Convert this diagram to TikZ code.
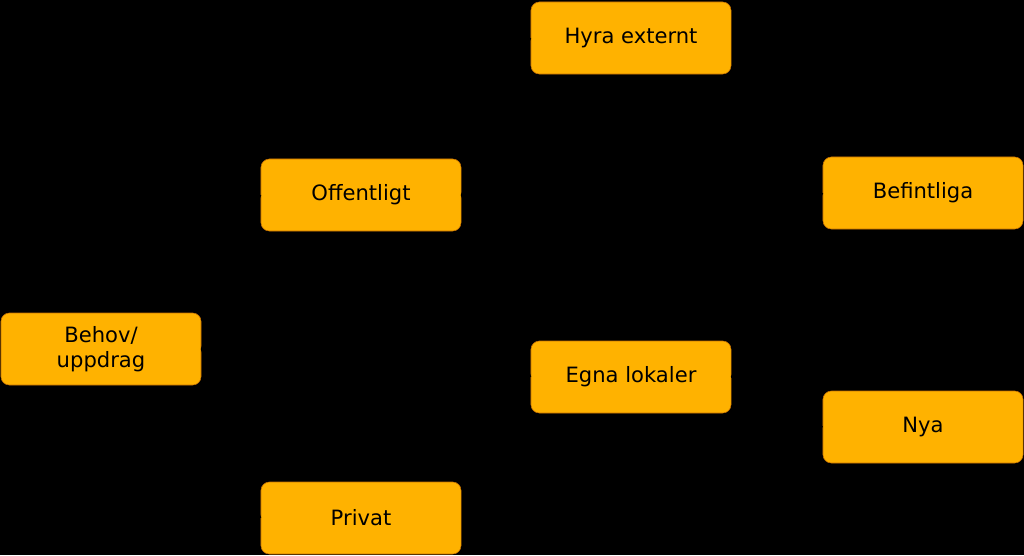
\documentclass[tikz,border=0pt]{standalone}
\usepackage{fontspec}
\setmainfont{DejaVu Sans}
\begin{document}
\begin{tikzpicture}[x=0.025cm,y=-0.025cm,
    box/.style={draw=black!25!orange!90!yellow, fill=orange!60!yellow, rounded corners=6pt,
      minimum width=5cm, minimum height=1.8cm, align=center, font=\fontsize{15}{18}\selectfont},
    link/.style={draw=black, thick}]
  \fill[black] (0,0) rectangle (1024,555);
  \useasboundingbox (0,0) rectangle (1024,555);

  \node[box] (behov) at (101,349) {Behov/\\uppdrag};
  \node[box] (offentligt) at (361,195) {Offentligt};
  \node[box] (privat) at (361,518) {Privat};
  \node[box] (hyra) at (631,38) {Hyra externt};
  \node[box] (egna) at (631,377) {Egna lokaler};
  \node[box] (befintliga) at (923,193) {Befintliga};
  \node[box] (nya) at (923,427) {Nya};

  \draw[link] (behov.east) -- (offentligt.west);
  \draw[link] (behov.east) -- (privat.west);
  \draw[link] (offentligt.east) -- (hyra.west);
  \draw[link] (offentligt.east) -- (egna.west);
  \draw[link] (egna.east) -- (befintliga.west);
  \draw[link] (egna.east) -- (nya.west);
\end{tikzpicture}
\end{document}
